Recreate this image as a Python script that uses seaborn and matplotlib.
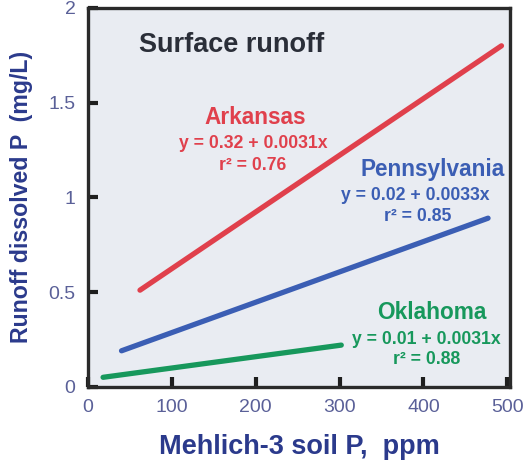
import pandas as pd
import seaborn as sns
import matplotlib.pyplot as plt

# line endpoints (x = Mehlich-3 P ppm, y = mg/L)
states = ["Arkansas", "Pennsylvania", "Oklahoma"]
x_start = [62, 40, 18]
x_end = [493, 477, 302]
y_start = [0.51, 0.19, 0.05]
y_end = [1.80, 0.89, 0.22]
equations = ["y = 0.32 + 0.0031x", "y = 0.02 + 0.0033x", "y = 0.01 + 0.0031x"]
r2_labels = ["r² = 0.76", "r² = 0.85", "r² = 0.88"]
colors = ["#e0404c", "#3b5eb4", "#17985c"]

x_ticks = [0, 100, 200, 300, 400, 500]
y_ticks = [0, 0.5, 1, 1.5, 2]
y_tick_labels = ["0", "0.5", "1", "1.5", "2"]

rows = []
for s, xa, xb, ya, yb in zip(states, x_start, x_end, y_start, y_end):
    rows.append({"state": s, "x": xa, "y": ya})
    rows.append({"state": s, "x": xb, "y": yb})
df = pd.DataFrame(rows)

sns.set_style("white")
plt.rcParams['font.family'] = ['Liberation Sans', 'DejaVu Sans']

fig = plt.figure(figsize=(5.3, 4.66), dpi=100)
ax = fig.add_axes([0.166, 0.170, 0.796, 0.813])
ax.set_facecolor("#e9ecf2")

sns.lineplot(data=df, x="x", y="y", hue="state", hue_order=states,
             palette=colors, linewidth=3.8, legend=False, ax=ax,
             solid_capstyle="round")

ax.set_xlim(0, 503)
ax.set_ylim(0, 2)
ax.set_xticks(x_ticks)
ax.set_yticks(y_ticks)
ax.set_yticklabels(y_tick_labels)
ax.tick_params(bottom=True, left=True, direction="in", length=7, width=3,
               color="#1e1e1e", labelsize=14, labelcolor="#5a6098", pad=9)
for sp in ax.spines.values():
    sp.set_linewidth(2.4)
    sp.set_color("#2a2a2a")

ax.set_xlabel("Mehlich-3 soil P,  ppm", fontsize=19.5, fontweight="bold",
              color="#2b3a8c", labelpad=13)
ax.set_ylabel("Runoff dissolved P  (mg/L)", fontsize=16.7, fontweight="bold",
              color="#2b3a8c", labelpad=11)

ax.text(0.341, 0.902, "Surface runoff", transform=ax.transAxes, ha="center",
        va="center", fontsize=19.5, fontweight="bold", color="#2a2e38")

# label positions in axes fraction
name_pos = [(0.396, 0.710), (0.818, 0.573), (0.815, 0.195)]
eq_pos = [(0.391, 0.641), (0.775, 0.504), (0.803, 0.124)]
r2_pos = [(0.391, 0.583), (0.782, 0.449), (0.803, 0.071)]
for i in range(3):
    ax.text(*name_pos[i], states[i], transform=ax.transAxes, ha="center",
            va="center", fontsize=16.3, fontweight="bold", color=colors[i])
    ax.text(*eq_pos[i], equations[i], transform=ax.transAxes, ha="center",
            va="center", fontsize=12.7, fontweight="bold", color=colors[i])
    ax.text(*r2_pos[i], r2_labels[i], transform=ax.transAxes, ha="center",
            va="center", fontsize=12.7, fontweight="bold", color=colors[i])

plt.savefig("out.png", dpi=100)
plt.close()
